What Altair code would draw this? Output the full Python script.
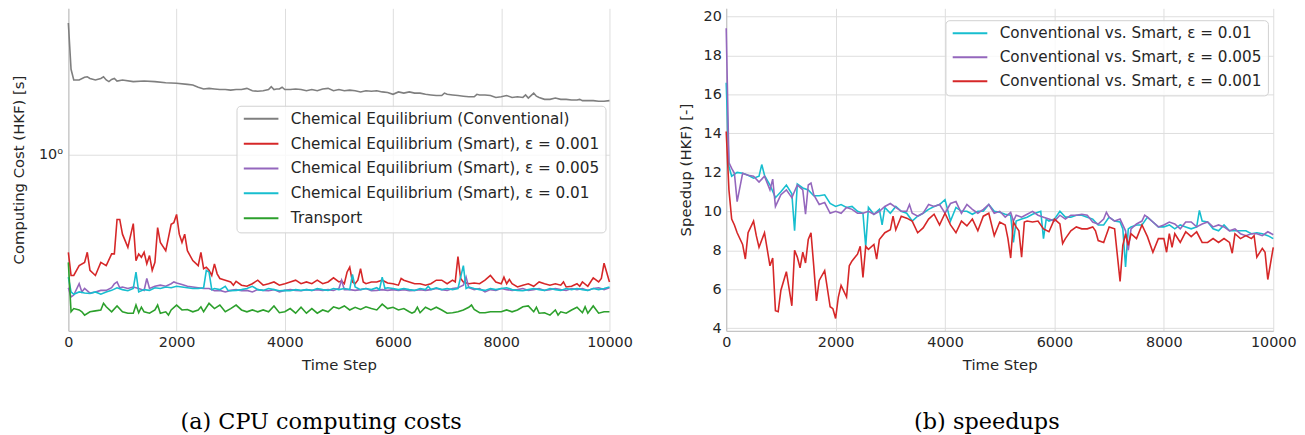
import altair as alt
import pandas as pd

# ---------------- (a) CPU computing costs [s] ----------------
conv_cost = [(0, 3.40), (50, 2.21), (100, 2.00), (200, 2.00), (300, 2.05), (350, 2.06), (400, 2.03), (500, 2.00),
             (600, 2.03), (650, 2.06), (700, 2.00), (750, 1.97), (800, 2.01), (850, 2.03), (900, 1.98), (1000, 2.00),
             (1200, 1.97), (1400, 1.98), (1600, 1.97), (1800, 1.95), (2000, 1.94), (2200, 1.92), (2300, 1.91),
             (2400, 1.87), (2500, 1.84), (2600, 1.85), (2700, 1.84), (2800, 1.83), (2900, 1.83), (3000, 1.82),
             (3100, 1.83), (3200, 1.83), (3300, 1.85), (3400, 1.81), (3500, 1.80), (3600, 1.81), (3700, 1.83),
             (3750, 1.88), (3800, 1.83), (3850, 1.84), (3900, 1.84), (3950, 1.87), (4000, 1.83), (4100, 1.83),
             (4200, 1.84), (4300, 1.83), (4400, 1.81), (4500, 1.83), (4600, 1.81), (4700, 1.84), (4800, 1.85),
             (4900, 1.81), (5000, 1.83), (5100, 1.81), (5200, 1.82), (5300, 1.81), (5400, 1.79), (5500, 1.81),
             (5600, 1.80), (5700, 1.81), (5800, 1.79), (5900, 1.78), (6000, 1.75), (6100, 1.79), (6200, 1.77),
             (6300, 1.79), (6400, 1.77), (6500, 1.77), (6600, 1.75), (6700, 1.74), (6800, 1.73), (6900, 1.73),
             (6950, 1.77), (7000, 1.75), (7100, 1.74), (7200, 1.73), (7300, 1.72), (7400, 1.71), (7500, 1.71),
             (7550, 1.75), (7600, 1.74), (7700, 1.74), (7800, 1.73), (7900, 1.70), (8000, 1.71), (8100, 1.73),
             (8200, 1.70), (8300, 1.71), (8400, 1.70), (8450, 1.74), (8500, 1.69), (8550, 1.73), (8600, 1.77),
             (8650, 1.72), (8700, 1.70), (8800, 1.67), (8900, 1.67), (9000, 1.69), (9100, 1.67), (9200, 1.67),
             (9300, 1.66), (9400, 1.66), (9450, 1.67), (9500, 1.65), (9600, 1.65), (9700, 1.65), (9800, 1.64),
             (9900, 1.64), (10000, 1.65)]

smart001_cost = [(0, 0.402), (50, 0.324), (100, 0.324), (200, 0.355), (300, 0.366), (350, 0.402), (400, 0.340),
                 (500, 0.324), (600, 0.366), (700, 0.355), (800, 0.396), (850, 0.396), (900, 0.546), (950, 0.546),
                 (1000, 0.476), (1100, 0.421), (1200, 0.525), (1250, 0.372), (1300, 0.396), (1350, 0.384),
                 (1400, 0.402), (1450, 0.361), (1500, 0.390), (1550, 0.340), (1600, 0.366), (1650, 0.506),
                 (1700, 0.441), (1800, 0.408), (1850, 0.461), (1900, 0.522), (1950, 0.530), (2000, 0.572),
                 (2050, 0.476), (2100, 0.441), (2150, 0.476), (2200, 0.408), (2300, 0.372), (2400, 0.355),
                 (2450, 0.402), (2500, 0.345), (2550, 0.350), (2600, 0.340), (2650, 0.324), (2700, 0.361),
                 (2750, 0.329), (2800, 0.315), (2900, 0.310), (3000, 0.305), (3050, 0.296), (3100, 0.307),
                 (3200, 0.296), (3300, 0.293), (3400, 0.300), (3500, 0.310), (3600, 0.296), (3700, 0.300),
                 (3800, 0.305), (3900, 0.296), (4000, 0.300), (4100, 0.305), (4200, 0.310), (4300, 0.300),
                 (4400, 0.305), (4500, 0.300), (4600, 0.310), (4700, 0.300), (4800, 0.305), (4900, 0.317),
                 (5000, 0.305), (5050, 0.308), (5100, 0.300), (5150, 0.334), (5200, 0.350), (5250, 0.305),
                 (5300, 0.300), (5350, 0.310), (5400, 0.345), (5450, 0.305), (5500, 0.300), (5600, 0.305),
                 (5700, 0.305), (5800, 0.310), (5900, 0.302), (6000, 0.300), (6100, 0.296), (6150, 0.315),
                 (6200, 0.310), (6300, 0.305), (6400, 0.300), (6500, 0.300), (6600, 0.296), (6700, 0.300),
                 (6800, 0.310), (6900, 0.310), (7000, 0.300), (7100, 0.310), (7150, 0.305), (7200, 0.386),
                 (7250, 0.315), (7300, 0.305), (7400, 0.300), (7500, 0.302), (7600, 0.300), (7700, 0.310),
                 (7800, 0.324), (7900, 0.305), (8000, 0.300), (8050, 0.319), (8100, 0.300), (8150, 0.312),
                 (8200, 0.300), (8300, 0.291), (8400, 0.296), (8500, 0.300), (8600, 0.293), (8700, 0.305),
                 (8800, 0.300), (8900, 0.296), (9000, 0.300), (9100, 0.296), (9150, 0.305), (9200, 0.291),
                 (9300, 0.293), (9400, 0.300), (9450, 0.293), (9500, 0.305), (9600, 0.293), (9700, 0.317),
                 (9800, 0.305), (9850, 0.315), (9900, 0.363), (10000, 0.305)]

smart005_cost = [(0, 0.289), (50, 0.265), (100, 0.270), (200, 0.300), (250, 0.278), (300, 0.287), (400, 0.275),
                 (500, 0.278), (600, 0.282), (700, 0.282), (800, 0.289), (850, 0.300), (900, 0.305), (950, 0.289),
                 (1000, 0.291), (1100, 0.287), (1200, 0.291), (1300, 0.287), (1400, 0.282), (1450, 0.315),
                 (1500, 0.287), (1600, 0.293), (1700, 0.296), (1800, 0.293), (1900, 0.300), (1950, 0.305),
                 (2000, 0.302), (2100, 0.298), (2200, 0.293), (2300, 0.291), (2400, 0.289), (2500, 0.287),
                 (2600, 0.287), (2700, 0.281), (2800, 0.282), (2900, 0.278), (3000, 0.282), (3100, 0.284),
                 (3200, 0.281), (3300, 0.282), (3400, 0.278), (3500, 0.284), (3600, 0.282), (3700, 0.281),
                 (3800, 0.284), (3900, 0.278), (4000, 0.282), (4100, 0.284), (4200, 0.282), (4300, 0.281),
                 (4400, 0.284), (4500, 0.282), (4600, 0.284), (4700, 0.282), (4800, 0.284), (4900, 0.282),
                 (5000, 0.287), (5050, 0.310), (5100, 0.284), (5200, 0.284), (5300, 0.282), (5400, 0.284),
                 (5500, 0.287), (5600, 0.281), (5700, 0.282), (5800, 0.284), (5900, 0.282), (6000, 0.284),
                 (6100, 0.282), (6200, 0.284), (6300, 0.281), (6400, 0.282), (6500, 0.284), (6600, 0.282),
                 (6700, 0.284), (6800, 0.287), (6900, 0.284), (7000, 0.282), (7100, 0.287), (7200, 0.289),
                 (7300, 0.296), (7350, 0.319), (7400, 0.289), (7500, 0.284), (7600, 0.287), (7700, 0.278),
                 (7800, 0.284), (7900, 0.282), (8000, 0.287), (8100, 0.284), (8200, 0.282), (8300, 0.284),
                 (8400, 0.287), (8500, 0.282), (8600, 0.284), (8700, 0.287), (8800, 0.282), (8900, 0.284),
                 (9000, 0.287), (9100, 0.284), (9200, 0.282), (9300, 0.287), (9400, 0.284), (9500, 0.287),
                 (9600, 0.282), (9700, 0.287), (9800, 0.289), (9900, 0.284), (10000, 0.289)]

smart01_cost = [(0, 0.319), (50, 0.278), (100, 0.272), (200, 0.278), (300, 0.275), (400, 0.274), (500, 0.278),
                (600, 0.272), (700, 0.278), (800, 0.282), (900, 0.289), (1000, 0.284), (1100, 0.281), (1200, 0.287),
                (1250, 0.334), (1300, 0.278), (1400, 0.284), (1500, 0.282), (1600, 0.289), (1700, 0.287),
                (1800, 0.291), (1900, 0.289), (2000, 0.293), (2100, 0.291), (2200, 0.289), (2300, 0.287),
                (2400, 0.287), (2500, 0.289), (2550, 0.340), (2600, 0.334), (2650, 0.284), (2700, 0.287),
                (2800, 0.284), (2900, 0.293), (2950, 0.282), (3000, 0.281), (3100, 0.282), (3200, 0.284),
                (3300, 0.287), (3400, 0.293), (3500, 0.284), (3600, 0.282), (3700, 0.287), (3800, 0.284),
                (3900, 0.281), (4000, 0.282), (4100, 0.281), (4200, 0.284), (4300, 0.282), (4400, 0.284),
                (4500, 0.282), (4600, 0.287), (4700, 0.284), (4800, 0.282), (4900, 0.287), (5000, 0.284),
                (5100, 0.287), (5200, 0.284), (5250, 0.327), (5300, 0.291), (5400, 0.284), (5500, 0.287),
                (5600, 0.284), (5700, 0.289), (5750, 0.284), (5800, 0.319), (5850, 0.287), (5900, 0.289),
                (6000, 0.287), (6100, 0.284), (6200, 0.287), (6300, 0.284), (6400, 0.282), (6500, 0.287),
                (6600, 0.284), (6650, 0.293), (6700, 0.284), (6800, 0.289), (6900, 0.284), (7000, 0.287),
                (7100, 0.284), (7200, 0.287), (7300, 0.355), (7350, 0.287), (7400, 0.291), (7500, 0.287),
                (7600, 0.284), (7700, 0.282), (7800, 0.287), (7900, 0.284), (8000, 0.287), (8100, 0.289),
                (8200, 0.284), (8300, 0.282), (8400, 0.281), (8500, 0.284), (8600, 0.287), (8700, 0.284),
                (8800, 0.282), (8900, 0.287), (9000, 0.284), (9100, 0.282), (9200, 0.287), (9300, 0.284),
                (9400, 0.287), (9500, 0.284), (9600, 0.282), (9700, 0.287), (9800, 0.284), (9900, 0.287),
                (10000, 0.291)]

transport_cost = [(0, 0.366), (50, 0.231), (100, 0.238), (200, 0.235), (250, 0.231), (300, 0.224), (400, 0.231),
                  (500, 0.233), (600, 0.235), (650, 0.250), (700, 0.242), (800, 0.231), (900, 0.244), (1000, 0.231),
                  (1100, 0.228), (1200, 0.228), (1250, 0.246), (1300, 0.229), (1350, 0.241), (1400, 0.231),
                  (1500, 0.228), (1600, 0.235), (1650, 0.246), (1700, 0.228), (1800, 0.231), (1850, 0.224),
                  (1900, 0.235), (2000, 0.246), (2100, 0.235), (2200, 0.236), (2300, 0.231), (2400, 0.235),
                  (2450, 0.242), (2500, 0.231), (2600, 0.250), (2700, 0.238), (2800, 0.246), (2900, 0.231),
                  (3000, 0.238), (3100, 0.246), (3200, 0.235), (3300, 0.231), (3400, 0.235), (3500, 0.231),
                  (3600, 0.235), (3700, 0.231), (3800, 0.244), (3900, 0.229), (4000, 0.231), (4100, 0.238),
                  (4200, 0.228), (4300, 0.241), (4400, 0.228), (4500, 0.238), (4600, 0.228), (4700, 0.235),
                  (4800, 0.231), (4900, 0.242), (5000, 0.238), (5100, 0.244), (5200, 0.235), (5300, 0.241),
                  (5400, 0.236), (5500, 0.242), (5600, 0.238), (5700, 0.235), (5800, 0.248), (5900, 0.238),
                  (6000, 0.241), (6100, 0.235), (6200, 0.238), (6300, 0.231), (6350, 0.228), (6400, 0.231),
                  (6450, 0.241), (6500, 0.229), (6600, 0.241), (6700, 0.235), (6800, 0.241), (6900, 0.235),
                  (7000, 0.228), (7100, 0.229), (7200, 0.231), (7300, 0.235), (7400, 0.241), (7450, 0.246),
                  (7500, 0.236), (7600, 0.229), (7700, 0.229), (7800, 0.231), (7900, 0.231), (8000, 0.231),
                  (8100, 0.235), (8200, 0.231), (8300, 0.235), (8400, 0.242), (8500, 0.244), (8600, 0.231),
                  (8650, 0.241), (8700, 0.228), (8800, 0.229), (8900, 0.224), (9000, 0.235), (9050, 0.224),
                  (9100, 0.231), (9200, 0.228), (9300, 0.235), (9400, 0.241), (9500, 0.229), (9550, 0.242),
                  (9600, 0.228), (9700, 0.244), (9800, 0.228), (9900, 0.231), (10000, 0.231)]

# ---------------- (b) speedups [-] ----------------
speedup_01 = [(0, 16.6), (50, 12.3), (100, 11.8), (200, 12.0), (300, 11.95), (400, 11.85), (500, 11.7), (600, 11.8),
              (650, 12.4), (700, 11.85), (800, 11.35), (900, 10.7), (1000, 11.0), (1100, 11.35), (1200, 10.9),
              (1250, 9.0), (1300, 11.4), (1400, 11.2), (1500, 11.1), (1600, 10.8), (1700, 10.8), (1800, 10.85),
              (1900, 10.4), (2000, 10.25), (2100, 10.35), (2200, 10.2), (2300, 10.25), (2400, 10.0), (2500, 9.9),
              (2550, 8.2), (2600, 10.2), (2700, 9.85), (2800, 10.1), (2850, 9.3), (2900, 10.2), (3000, 9.9),
              (3100, 10.25), (3200, 10.0), (3300, 9.9), (3400, 9.5), (3500, 9.75), (3600, 9.9), (3700, 10.1),
              (3800, 10.25), (3900, 10.35), (4000, 10.6), (4100, 9.5), (4200, 10.2), (4300, 10.0), (4400, 10.0),
              (4500, 9.85), (4600, 10.0), (4700, 10.0), (4800, 10.35), (4900, 10.0), (5000, 9.95), (5100, 9.85),
              (5200, 9.8), (5250, 8.4), (5300, 9.5), (5400, 9.6), (5500, 9.7), (5600, 9.85), (5700, 9.95),
              (5750, 10.0), (5800, 8.6), (5850, 9.6), (5900, 9.5), (6000, 9.6), (6100, 10.0), (6200, 9.7),
              (6300, 9.7), (6400, 9.8), (6500, 9.8), (6600, 9.7), (6700, 9.6), (6800, 9.3), (6900, 9.3),
              (7000, 9.7), (7100, 9.5), (7200, 9.45), (7250, 9.1), (7300, 7.15), (7350, 9.1), (7400, 9.2),
              (7500, 9.3), (7600, 9.3), (7700, 9.7), (7800, 9.45), (7900, 9.2), (8000, 9.2), (8100, 9.3),
              (8200, 9.1), (8300, 9.3), (8400, 9.2), (8500, 9.1), (8600, 9.2), (8650, 10.05), (8700, 9.5),
              (8800, 9.45), (8900, 9.1), (9000, 9.0), (9100, 9.3), (9200, 9.0), (9300, 9.0), (9400, 9.0),
              (9500, 9.0), (9600, 8.85), (9700, 8.9), (9800, 8.85), (9900, 8.75), (10000, 8.6)]

speedup_005 = [(0, 19.4), (50, 12.5), (100, 12.2), (150, 11.95), (200, 10.5), (300, 11.95), (400, 11.85),
               (500, 11.8), (600, 11.5), (700, 11.8), (800, 11.1), (850, 11.65), (900, 10.25), (1000, 10.85),
               (1100, 11.1), (1200, 10.7), (1300, 11.35), (1400, 11.1), (1450, 9.85), (1500, 11.35), (1550, 11.45),
               (1600, 10.85), (1700, 10.35), (1800, 10.45), (1900, 9.9), (2000, 10.0), (2100, 9.9), (2200, 10.2),
               (2300, 10.1), (2400, 9.9), (2500, 9.9), (2600, 10.0), (2700, 9.85), (2800, 10.0), (2900, 10.25),
               (3000, 10.4), (3100, 10.2), (3200, 10.0), (3300, 10.0), (3350, 10.35), (3400, 9.9), (3500, 9.75),
               (3600, 9.9), (3700, 10.35), (3800, 10.25), (3900, 10.35), (4000, 9.9), (4100, 10.4), (4200, 10.5),
               (4300, 9.9), (4400, 10.35), (4500, 10.1), (4600, 9.9), (4700, 10.1), (4800, 10.35), (4900, 9.9),
               (5000, 10.0), (5100, 9.7), (5200, 9.95), (5250, 9.5), (5300, 9.8), (5400, 9.7), (5500, 9.85),
               (5600, 10.0), (5700, 9.8), (5800, 9.7), (5900, 9.6), (6000, 9.5), (6100, 9.8), (6200, 9.6),
               (6300, 9.8), (6400, 9.8), (6500, 9.85), (6600, 9.8), (6700, 9.45), (6800, 9.35), (6900, 9.6),
               (6950, 9.95), (7000, 9.7), (7100, 9.5), (7200, 9.6), (7300, 9.0), (7350, 8.0), (7400, 9.1),
               (7500, 9.35), (7600, 9.5), (7650, 9.8), (7700, 9.7), (7800, 9.45), (7900, 9.2), (8000, 9.3),
               (8100, 9.45), (8200, 9.35), (8300, 9.1), (8400, 9.45), (8500, 9.45), (8600, 9.2), (8700, 9.35),
               (8800, 9.45), (8900, 9.2), (9000, 9.3), (9100, 9.2), (9200, 9.0), (9300, 9.1), (9400, 8.85),
               (9500, 8.75), (9600, 8.85), (9700, 8.85), (9800, 8.75), (9900, 8.95), (10000, 8.8)]

speedup_001 = [(0, 14.1), (50, 11.1), (100, 9.6), (150, 9.3), (200, 8.9), (300, 8.3), (350, 7.55), (400, 8.9),
               (500, 9.5), (550, 8.75), (600, 8.15), (700, 8.9), (800, 7.2), (850, 7.6), (900, 4.9), (950, 4.85),
               (1000, 5.95), (1100, 6.9), (1200, 5.15), (1250, 8.0), (1300, 7.65), (1350, 7.1), (1400, 7.9),
               (1450, 7.35), (1500, 8.55), (1550, 8.9), (1600, 7.2), (1650, 5.4), (1700, 6.45), (1800, 6.95),
               (1900, 5.1), (1950, 5.0), (2000, 4.5), (2050, 5.6), (2100, 6.2), (2200, 5.6), (2250, 7.2),
               (2300, 7.45), (2400, 7.8), (2450, 8.2), (2500, 6.6), (2550, 8.2), (2600, 8.05), (2700, 8.3),
               (2750, 7.55), (2800, 8.55), (2900, 8.9), (3000, 9.05), (3050, 9.75), (3100, 9.05), (3200, 9.75),
               (3300, 9.65), (3400, 9.5), (3500, 8.9), (3600, 9.15), (3700, 9.6), (3800, 9.85), (3900, 9.3),
               (4000, 9.9), (4100, 9.3), (4200, 8.9), (4300, 9.5), (4400, 9.25), (4500, 9.6), (4600, 9.0),
               (4700, 9.75), (4800, 9.9), (4900, 8.75), (5000, 9.45), (5100, 9.3), (5150, 8.6), (5200, 7.6),
               (5250, 9.45), (5300, 9.2), (5350, 9.0), (5400, 7.65), (5450, 9.45), (5500, 9.5), (5600, 9.45),
               (5700, 9.5), (5800, 9.1), (5900, 8.95), (6000, 9.6), (6100, 9.35), (6150, 8.35), (6200, 8.6),
               (6300, 9.0), (6400, 9.2), (6500, 9.1), (6600, 9.1), (6700, 9.2), (6750, 9.0), (6800, 8.5),
               (6900, 8.4), (7000, 9.2), (7100, 9.1), (7200, 6.4), (7250, 8.25), (7300, 8.85), (7350, 8.25),
               (7400, 8.85), (7500, 8.6), (7600, 9.3), (7700, 8.7), (7800, 7.9), (7900, 8.6), (8000, 8.6),
               (8050, 7.9), (8100, 8.85), (8150, 8.15), (8200, 8.85), (8300, 8.4), (8400, 8.95), (8500, 8.7),
               (8600, 8.95), (8700, 8.4), (8800, 8.4), (8900, 8.6), (9000, 8.4), (9100, 8.6), (9200, 8.4),
               (9250, 7.85), (9300, 8.85), (9400, 8.6), (9500, 8.75), (9600, 8.6), (9650, 8.75), (9700, 7.65),
               (9800, 8.1), (9850, 7.9), (9900, 6.5), (10000, 8.15)]

left_names = ["Chemical Equilibrium (Conventional)",
              "Chemical Equilibrium (Smart), ε = 0.001",
              "Chemical Equilibrium (Smart), ε = 0.005",
              "Chemical Equilibrium (Smart), ε = 0.01",
              "Transport"]
left_colors = ["#7f7f7f", "#d62728", "#9467bd", "#17becf", "#2ca02c"]
left_series = [conv_cost, smart001_cost, smart005_cost, smart01_cost, transport_cost]

right_names = ["Conventional vs. Smart, ε = 0.01",
               "Conventional vs. Smart, ε = 0.005",
               "Conventional vs. Smart, ε = 0.001"]
right_colors = ["#17becf", "#9467bd", "#d62728"]
right_series = [speedup_01, speedup_005, speedup_001]

x_ticks = [0, 2000, 4000, 6000, 8000, 10000]
speed_ticks = [4, 6, 8, 10, 12, 14, 16, 18, 20]


def build(names, series):
    rows = []
    for order, (name, pairs) in enumerate(zip(names, series)):
        for s, v in pairs:
            rows.append({"step": s, "value": v, "series": name, "k": order})
    return pd.DataFrame(rows)


left_df = build(left_names, left_series)
right_df = build(right_names, right_series)

FONT = "DejaVu Sans"
TXT = "#262626"
LINE_SYMBOL = "M-1,0H5"


def legend(x, y, row_pad):
    return alt.Legend(title=None, orient="none", legendX=x, legendY=y,
                      symbolType=LINE_SYMBOL, symbolSize=136, symbolStrokeWidth=2,
                      labelFont=FONT, labelFontSize=15.4, labelColor=TXT, labelLimit=500,
                      labelOffset=34, rowPadding=row_pad, padding=5.5,
                      fillColor="rgba(255,255,255,0.8)", strokeColor="#d0d0d0", cornerRadius=4)


x_axis = alt.Axis(values=x_ticks, title="Time Step", format="d", labelFlush=False,
                  labelPadding=5, titlePadding=9)

left = alt.Chart(left_df).mark_line(strokeWidth=1.6).encode(
    x=alt.X("step:Q", scale=alt.Scale(domain=[0, 10000], nice=False, zero=False), axis=x_axis),
    y=alt.Y("value:Q",
            scale=alt.Scale(type="log", domain=[0.1935, 3.898], nice=False),
            axis=alt.Axis(values=[1], labelExpr="'10⁰'", title="Computing Cost (HKF) [s]",
                          labelPadding=6, titlePadding=12.5)),
    color=alt.Color("series:N", scale=alt.Scale(domain=left_names, range=left_colors),
                    legend=legend(170, 98.5, 8.1)),
    detail="k:O",
).properties(
    width=547, height=326,
    title=alt.TitleParams("(a) CPU computing costs", orient="bottom", anchor="middle",
                          font="DejaVu Serif", fontSize=22.6, fontWeight="normal", color="black",
                          offset=39, dx=-18),
)

right = alt.Chart(right_df).mark_line(strokeWidth=1.6).encode(
    x=alt.X("step:Q", scale=alt.Scale(domain=[0, 10000], nice=False, zero=False), axis=x_axis),
    y=alt.Y("value:Q", scale=alt.Scale(domain=[3.865, 20.42], nice=False, zero=False),
            axis=alt.Axis(values=speed_ticks, title="Speedup (HKF) [-]", labelPadding=5, titlePadding=10)),
    color=alt.Color("series:N", scale=alt.Scale(domain=right_names, range=right_colors),
                    legend=legend(221.6, 12, 7.3)),
    detail="k:O",
).properties(
    width=553, height=326,
    title=alt.TitleParams("(b) speedups", orient="bottom", anchor="middle",
                          font="DejaVu Serif", fontSize=22.6, fontWeight="normal", color="black",
                          offset=39, dx=-13),
)

chart = alt.hconcat(left, right, spacing=45).resolve_scale(color="independent").resolve_legend(
    color="independent"
).properties(
    padding={"left": 2, "top": -3, "right": 0, "bottom": 0}
).configure_view(
    stroke="transparent"
).configure_axis(
    labelFont=FONT, labelFontSize=14.5, labelColor=TXT,
    titleFont=FONT, titleFontSize=15, titleFontWeight="normal", titleColor=TXT,
    gridColor="#dedede", gridWidth=1, domainColor="#c4c4c4", domainWidth=1.2, ticks=False,
)

chart.save("out.html", embed_options={"renderer": "svg", "actions": False})
